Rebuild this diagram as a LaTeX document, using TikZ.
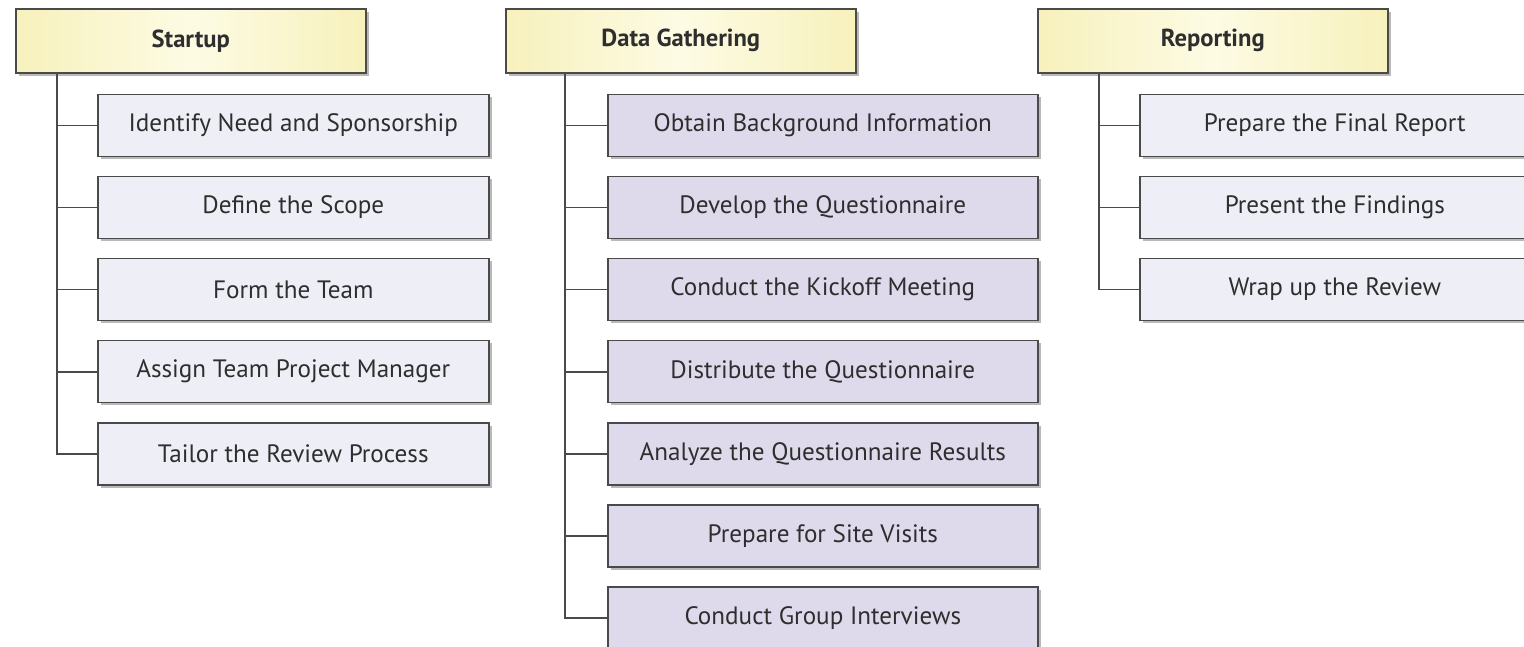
\documentclass[tikz,border=0pt]{standalone}
\usepackage{fontspec}
\setmainfont{PT Sans}
\usepackage{xcolor}
\usepackage{tikz}
\usetikzlibrary{positioning, calc, shadows}

\definecolor{headlo}{HTML}{F7F1BC}
\definecolor{headhi}{HTML}{FDFBE4}
\definecolor{steplite}{HTML}{EEEEF6}
\definecolor{steppurple}{HTML}{DEDAEC}
\definecolor{linegrey}{HTML}{4A4A4A}
\definecolor{textgrey}{HTML}{2E2E2E}

\begin{document}
\begin{tikzpicture}[
    phase/.style={
        rectangle, draw=linegrey, line width=0.9pt,
        left color=headlo, right color=headlo, middle color=headhi,
        minimum width=7cm, minimum height=1.28cm,
        anchor=north west, align=center, text=textgrey,
        font=\fontsize{14}{16}\selectfont\bfseries,
        drop shadow={shadow xshift=1.6pt, shadow yshift=-1.6pt, fill=black!55, opacity=0.5}
    },
    task/.style={
        rectangle, draw=linegrey, line width=0.9pt, fill=steplite,
        minimum height=1.24cm, align=center, text=textgrey,
        font=\fontsize{14.3}{16}\selectfont,
        drop shadow={shadow xshift=1.6pt, shadow yshift=-1.6pt, fill=black!55, opacity=0.5}
    },
    gtask/.style={task, fill=steppurple},
    link/.style={draw=linegrey, line width=1pt},
    node distance=0.37cm
]
    \useasboundingbox (0,0) rectangle (30.48,-12.92);

    % phase headers
    \node[phase] (startup) at (0.3,-0.16) {Startup};
    \node[phase] (gather) at (10.1,-0.16) {Data Gathering};
    \node[phase] (report) at (20.74,-0.16) {Reporting};

    % startup tasks
    \node[task, minimum width=7.82cm, below right=0.4cm and 1.64cm of startup.south west] (s1) {Identify Need and Sponsorship};
    \node[task, minimum width=7.82cm, below=of s1] (s2) {Define the Scope};
    \node[task, minimum width=7.82cm, below=of s2] (s3) {Form the Team};
    \node[task, minimum width=7.82cm, below=of s3] (s4) {Assign Team Project Manager};
    \node[task, minimum width=7.82cm, below=of s4] (s5) {Tailor the Review Process};

    % data gathering tasks
    \node[gtask, minimum width=8.6cm, below right=0.4cm and 2.04cm of gather.south west] (g1) {Obtain Background Information};
    \node[gtask, minimum width=8.6cm, below=of g1] (g2) {Develop the Questionnaire};
    \node[gtask, minimum width=8.6cm, below=of g2] (g3) {Conduct the Kickoff Meeting};
    \node[gtask, minimum width=8.6cm, below=of g3] (g4) {Distribute the Questionnaire};
    \node[gtask, minimum width=8.6cm, below=of g4] (g5) {Analyze the Questionnaire Results};
    \node[gtask, minimum width=8.6cm, below=of g5] (g6) {Prepare for Site Visits};
    \node[gtask, minimum width=8.6cm, below=of g6] (g7) {Conduct Group Interviews};

    % reporting tasks (run off the right edge)
    \node[task, minimum width=7.8cm, below right=0.4cm and 2.04cm of report.south west] (r1) {Prepare the Final Report};
    \node[task, minimum width=7.8cm, below=of r1] (r2) {Present the Findings};
    \node[task, minimum width=7.8cm, below=of r2] (r3) {Wrap up the Review};

    % trunks
    \coordinate (s-trunk) at ($(startup.south west)+(0.84,0)$);
    \coordinate (g-trunk) at ($(gather.south west)+(1.2,0)$);
    \coordinate (r-trunk) at ($(report.south west)+(1.24,0)$);

    \foreach \n in {s1,s2,s3,s4,s5}
        \draw[link] (s-trunk) |- (\n.west);
    \foreach \n in {g1,g2,g3,g4,g5,g6,g7}
        \draw[link] (g-trunk) |- (\n.west);
    \foreach \n in {r1,r2,r3}
        \draw[link] (r-trunk) |- (\n.west);
\end{tikzpicture}
\end{document}
